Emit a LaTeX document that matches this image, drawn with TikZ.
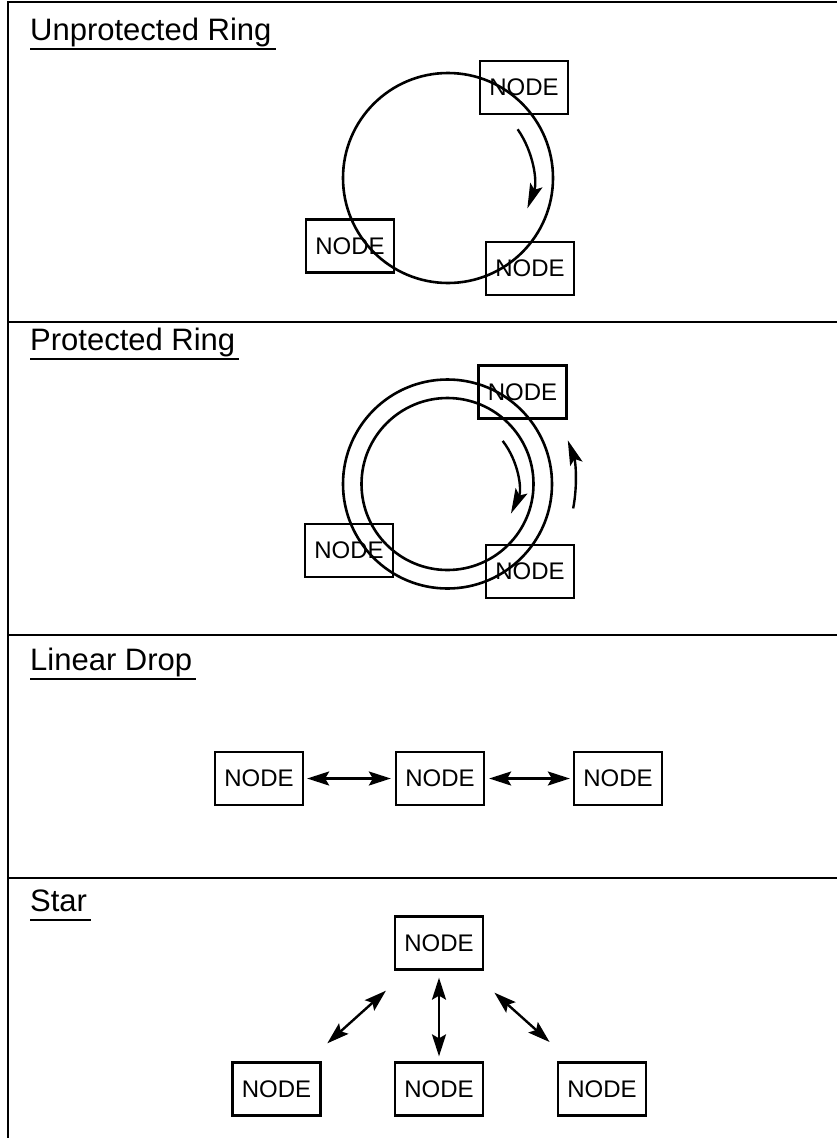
\documentclass[tikz,border=0pt]{standalone}
\usepackage{fontspec}
\setmainfont{Liberation Sans}
\usetikzlibrary{arrows.meta,calc}
\begin{document}
\begin{tikzpicture}[x=1pt,y=-1pt,
  nodebox/.style={draw, line width=2.3pt, minimum width=88pt, minimum height=53pt, inner sep=0pt, font=\fontsize{24}{28}\selectfont},
  heading/.style={anchor=base west, inner sep=0pt, font=\fontsize{31}{36}\selectfont},
  uline/.style={line width=2.4pt},
  framel/.style={line width=2.8pt},
  ring/.style={line width=2.6pt},
  tip/.style={line width=2.4pt, -{Stealth[length=25pt,width=13pt,inset=5pt]}},
  dtip/.style={line width=2.4pt, {Stealth[length=22pt,width=14pt,inset=4pt]}-{Stealth[length=22pt,width=14pt,inset=4pt]}}]
\useasboundingbox (0,0) rectangle (837,1138);
% frame
\draw[framel] (8,1138) -- (8,2) -- (837,2);
\draw[framel] (8,322) -- (837,322);
\draw[framel] (8,635) -- (837,635);
\draw[framel] (8,878) -- (837,878);
% headings
\node[heading] (h1) at (30,40) {Unprotected Ring};
\node[heading] (h2) at (30,350) {Protected Ring};
\node[heading] (h3) at (30,670) {Linear Drop};
\node[heading] (h4) at (30,911) {Star};
\foreach \h in {h1,h2,h3,h4}
  \draw[uline] ($(\h.base west)+(0,9)$) -- ($(\h.base east)+(4,9)$);
% unprotected ring
\coordinate (c1) at (448,178);
\draw[ring] (c1) circle[radius=105];
\node[nodebox] (u1) at (524,87.5) {NODE};
\node[nodebox] (u2) at (350,246) {NODE};
\node[nodebox] (u3) at (530,268.5) {NODE};
\draw[tip] ($(c1)+(-35:85)$) arc[start angle=-35, end angle=21, radius=85];
% protected ring
\coordinate (c2) at (447.5,484);
\draw[ring] (c2) circle[radius=104.5];
\draw[ring] (c2) circle[radius=86];
\node[nodebox] (p1) at (522.5,392) {NODE};
\node[nodebox] (p2) at (349,550.5) {NODE};
\node[nodebox] (p3) at (530,571.5) {NODE};
\draw[tip] ($(c2)+(-38:70)$) arc[start angle=-38, end angle=25, radius=70];
\draw[tip] ($(c2)+(11:128)$) arc[start angle=11, end angle=-20, radius=128];
% linear drop
\node[nodebox] (l1) at (259,778.5) {NODE};
\node[nodebox] (l2) at (440,778.5) {NODE};
\node[nodebox] (l3) at (618,778.5) {NODE};
\draw[dtip, shorten <=3pt, shorten >=4pt] (l1) -- (l2);
\draw[dtip, shorten <=4pt, shorten >=3pt] (l2) -- (l3);
% star
\node[nodebox] (s0) at (439,943) {NODE};
\node[nodebox] (s1) at (276.5,1089) {NODE};
\node[nodebox] (s2) at (439,1089) {NODE};
\node[nodebox] (s3) at (602,1089) {NODE};
\draw[dtip, shorten <=30pt, shorten >=27pt] (s0) -- (s1);
\draw[dtip, shorten <=7pt, shorten >=5pt] (s0) -- (s2);
\draw[dtip, shorten <=33pt, shorten >=29pt] (s0) -- (s3);
\end{tikzpicture}
\end{document}
